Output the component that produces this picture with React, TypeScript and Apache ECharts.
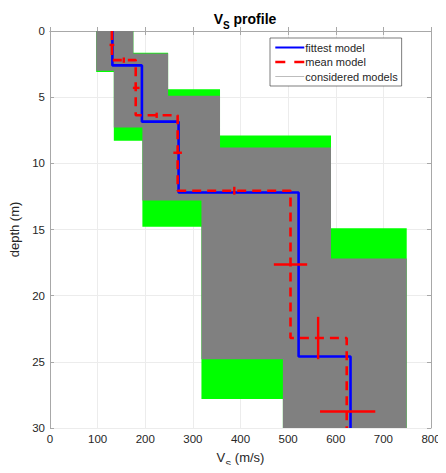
import React, { useEffect, useRef } from "react";
import * as echarts from "echarts";

// Fittest model: layer velocities (m/s) and interface depths (m)
const fitVs = [131, 193, 270, 522, 631];
const fitDepth = [2.6, 6.85, 12.2, 24.6];
// Mean model
const meanVs = [130, 180, 268, 505, 623];
const meanDepth = [2.2, 6.37, 12.07, 23.2];
// Velocity error bars: [vs, depth, halfWidth]
const vsErr = [
  [130, 1.05, 5],
  [181, 4.3, 7],
  [268, 9.2, 9],
  [505, 17.65, 35],
  [625, 28.75, 58],
];
// Depth error bars: [vs, depth, halfHeight]
const depthErr = [
  [155, 2.2, 0.2],
  [224, 6.37, 0.2],
  [387, 12.07, 0.3],
  [563, 23.2, 1.6],
];
// Envelope of all models (green)
const greenLeftDepth = [0, 3.1, 8.3, 14.8, 27.8, 30];
const greenLeftVs = [97, 134, 194, 318, 489];
const greenRightDepth = [0, 1.65, 4.4, 7.9, 14.9, 30];
const greenRightVs = [175, 248, 357, 590, 749];
// Envelope of considered models (gray)
const grayLeftDepth = [0, 3.0, 7.3, 12.8, 24.8, 30];
const grayLeftVs = [97, 134, 194, 318, 489];
const grayRightDepth = [0, 1.7, 4.9, 8.8, 17.2, 30];
const grayRightVs = [175, 248, 357, 590, 749];

const xTicks = [0, 800, 100];
const yTicks = [0, 30, 5];

function stepLine(vs: number[], depths: number[], maxDepth: number) {
  const pts: number[][] = [];
  const bounds = [0, ...depths, maxDepth];
  for (let i = 0; i < vs.length; i++) {
    pts.push([vs[i], bounds[i]]);
    pts.push([vs[i], bounds[i + 1]]);
  }
  return pts;
}

function envelope(lD: number[], lV: number[], rD: number[], rV: number[]) {
  const pts: number[][] = [];
  for (let i = 0; i < lV.length; i++) {
    pts.push([lV[i], lD[i]]);
    pts.push([lV[i], lD[i + 1]]);
  }
  for (let i = rV.length - 1; i >= 0; i--) {
    pts.push([rV[i], rD[i + 1]]);
    pts.push([rV[i], rD[i]]);
  }
  return pts;
}

const FONT = "Liberation Sans, Arial, Helvetica, sans-serif";
const TXT = "#262626";
const BOX = "#a8a8a8";

export default function App() {
  const ref = useRef<HTMLDivElement>(null);
  useEffect(() => {
    if (!ref.current) return;
    const chart = echarts.init(ref.current, undefined, { renderer: "svg" });
    const green = envelope(greenLeftDepth, greenLeftVs, greenRightDepth, greenRightVs);
    const gray = envelope(grayLeftDepth, grayLeftVs, grayRightDepth, grayRightVs);
    const polySeries = (name: string, pts: number[][], color: string, z: number) => ({
      type: "custom",
      name,
      z,
      silent: true,
      data: [[0, 0]],
      renderItem: (_p: any, api: any) => ({
        type: "polygon",
        shape: { points: pts.map((p) => api.coord(p)) },
        style: { fill: color, stroke: null },
      }),
    });
    const option: any = {
      animation: false,
      textStyle: { fontFamily: FONT },
      title: {
        text: "{v|V}{s|S}{v| profile}",
        left: 240,
        textAlign: "center",
        top: 1,
        textStyle: {
          rich: {
            v: { fontSize: 14, fontWeight: "bold", color: "#000", fontFamily: FONT, lineHeight: 20, verticalAlign: "bottom" },
            s: { fontSize: 10, fontWeight: "bold", color: "#000", fontFamily: FONT, lineHeight: 12, verticalAlign: "bottom", padding: [0, 0, -4, 0] },
          },
        },
      },
      legend: {
        orient: "vertical",
        left: 270,
        top: 38,
        padding: [4, 4, 4, 4],
        itemWidth: 29,
        itemHeight: 10,
        itemGap: 3.5,
        borderColor: "#262626",
        borderWidth: 0.6,
        backgroundColor: "#fff",
        itemStyle: { opacity: 0 },
        textStyle: { fontSize: 11, color: TXT, fontFamily: FONT, padding: [0, 0, 0, -4] },
        data: [
          { name: "fittest model" },
          { name: "mean model", lineStyle: { type: [10, 9], width: 2.6 } },
          { name: "considered models", lineStyle: { width: 0.7, color: "#a0a0a0" } },
        ],
      },
      grid: { left: 50, right: 15, top: 31, bottom: 40 },
      xAxis: [
        {
          type: "value",
          min: xTicks[0],
          max: xTicks[1],
          interval: xTicks[2],
          position: "bottom",
          name: "{v|V}{s|S}{v| (m/s)}",
          nameLocation: "middle",
          nameGap: 20,
          nameTextStyle: {
            rich: {
              v: { fontSize: 13, color: TXT, fontFamily: FONT, lineHeight: 16, verticalAlign: "bottom" },
              s: { fontSize: 9, color: TXT, fontFamily: FONT, lineHeight: 10, verticalAlign: "bottom", padding: [0, 0, -4, 0] },
            },
          },
          axisLine: { show: true, lineStyle: { color: BOX, width: 1 } },
          axisTick: { show: true, inside: true, length: 4, lineStyle: { color: BOX } },
          axisLabel: { fontSize: 11.5, color: TXT, margin: 5, fontFamily: FONT },
          splitLine: { show: true, lineStyle: { color: "#ececec", width: 1 } },
        },
        {
          type: "value",
          min: xTicks[0],
          max: xTicks[1],
          interval: xTicks[2],
          position: "top",
          axisLine: { show: true, onZero: false, lineStyle: { color: BOX, width: 1 } },
          axisTick: { show: true, inside: true, length: 4, lineStyle: { color: BOX } },
          axisLabel: { show: false },
          splitLine: { show: false },
        },
      ],
      yAxis: [
        {
          type: "value",
          inverse: true,
          min: yTicks[0],
          max: yTicks[1],
          interval: yTicks[2],
          position: "left",
          name: "depth (m)",
          nameLocation: "middle",
          nameGap: 19,
          nameRotate: 90,
          nameTextStyle: { fontSize: 13, color: TXT, fontFamily: FONT },
          axisLine: { show: true, onZero: false, lineStyle: { color: BOX, width: 1 } },
          axisTick: { show: true, inside: true, length: 4, lineStyle: { color: BOX } },
          axisLabel: { fontSize: 11.5, color: TXT, margin: 5, fontFamily: FONT },
          splitLine: { show: true, lineStyle: { color: "#ececec", width: 1 } },
        },
        {
          type: "value",
          inverse: true,
          min: yTicks[0],
          max: yTicks[1],
          interval: yTicks[2],
          position: "right",
          axisLine: { show: true, onZero: false, lineStyle: { color: BOX, width: 1 } },
          axisTick: { show: true, inside: true, length: 4, lineStyle: { color: BOX } },
          axisLabel: { show: false },
          splitLine: { show: false },
        },
      ],
      series: [
        polySeries("all models", green, "#00ff00", 1),
        polySeries("considered area", gray, "#808080", 2),
        {
          type: "line",
          name: "considered models",
          data: [],
          symbol: "none",
          lineStyle: { color: "#a0a0a0", width: 0.7 },
          itemStyle: { color: "#a0a0a0" },
          z: 3,
        },
        {
          type: "line",
          name: "fittest model",
          data: stepLine(fitVs, fitDepth, 30),
          symbol: "none",
          lineStyle: { color: "#0000ff", width: 2.6 },
          itemStyle: { color: "#0000ff" },
          z: 4,
        },
        {
          type: "line",
          name: "mean model",
          data: stepLine(meanVs, meanDepth, 30),
          symbol: "none",
          lineStyle: { color: "#ff0000", width: 2.6, type: [9, 6] },
          itemStyle: { color: "#ff0000" },
          z: 5,
        },
        {
          type: "custom",
          name: "vs error",
          z: 6,
          silent: true,
          data: vsErr,
          renderItem: (_p: any, api: any) => {
            const v = api.value(0), d = api.value(1), e = api.value(2);
            const a = api.coord([v - e, d]);
            const b = api.coord([v + e, d]);
            return {
              type: "line",
              shape: { x1: a[0], y1: a[1], x2: b[0], y2: b[1] },
              style: { stroke: "#ff0000", lineWidth: 2.4 },
            };
          },
        },
        {
          type: "custom",
          name: "depth error",
          z: 6,
          silent: true,
          data: depthErr,
          renderItem: (_p: any, api: any) => {
            const v = api.value(0), d = api.value(1), e = api.value(2);
            const a = api.coord([v, d - e]);
            const b = api.coord([v, d + e]);
            return {
              type: "line",
              shape: { x1: a[0], y1: a[1], x2: b[0], y2: b[1] },
              style: { stroke: "#ff0000", lineWidth: 2.4 },
            };
          },
        },
      ],
    };
    chart.setOption(option);
    return () => chart.dispose();
  }, []);
  return <div ref={ref} style={{ width: 446, height: 473, margin: -8 }} />;
}
